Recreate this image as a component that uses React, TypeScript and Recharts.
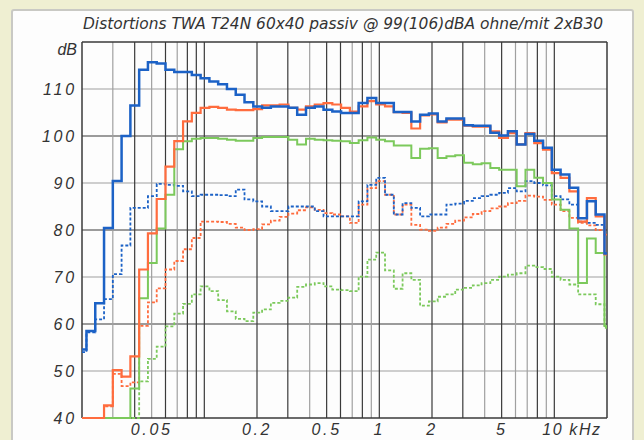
import React from 'react';
import { LineChart, Line, XAxis, YAxis, ReferenceLine } from 'recharts';

// 1/6-octave bin start frequencies (kHz); last entry closes the final bin
const BIN_FREQS = [
  0.02, 0.02121, 0.02381, 0.02673, 0.03, 0.03367, 0.0378, 0.04243, 0.04762, 0.05345,
  0.06, 0.06735, 0.0756, 0.08485, 0.09524, 0.1069, 0.12, 0.1347, 0.1512, 0.1697,
  0.1905, 0.2138, 0.24, 0.2694, 0.3024, 0.3394, 0.381, 0.4276, 0.48, 0.5388,
  0.6048, 0.6788, 0.7619, 0.8552, 0.96, 1.078, 1.21, 1.358, 1.524, 1.71,
  1.92, 2.155, 2.419, 2.715, 3.048, 3.421, 3.84, 4.31, 4.838, 5.431,
  6.095, 6.842, 7.68, 8.62, 9.676, 10.86, 12.19, 13.68, 15.36, 17.24,
  19.35, 20,
];

const BLUE_SOLID = [
  54.6, 58.5, 64.4, 80.4, 90.4, 100, 106.5, 114.1, 115.7, 115.4,
  114.1, 113.6, 113.6, 113.0, 112.3, 111.6, 111.0, 110.0, 108.8, 107.2,
  106.3, 106, 106.3, 106.3, 106, 104.5, 106, 106.3, 105.6, 105.2,
  104.9, 104.9, 107, 108.1, 107, 107, 105.1, 105.1, 103.1, 104.5,
  104.8, 103.1, 103.7, 103.7, 102.3, 102.2, 102.2, 100.7, 100.1, 101,
  98.2, 100.4, 99, 97.5, 92.8, 91.8, 89, 82.5, 86.1, 83.3,
  75,
];

const ORANGE_SOLID = [
  40, 40, 40, 42.7, 50.2, 48.8, 53.1, 71.6, 79.3, 86.6,
  93.5, 98.9, 103.1, 104.9, 106, 106.2, 106, 105.6, 105.5, 105.5,
  105.7, 106.5, 106.5, 106.7, 106, 105.6, 106.3, 106.7, 107, 106.7,
  106, 105.2, 106.3, 107.4, 106.7, 106.3, 105.1, 104.9, 101.6, 104.4,
  104.6, 102.9, 103.5, 103.5, 102.2, 102, 102, 101, 99.6, 100.6,
  98.2, 100.6, 98.5, 97.1, 92.1, 91.1, 88.2, 81.8, 86.8, 82.9,
  74.8,
];

const GREEN_SOLID = [
  40, 40, 40, 40, 40, 40, 46.3, 65.5, 73, 80.3,
  87.5, 97.2, 98.9, 99.4, 99.6, 99.6, 99.4, 99.2, 99, 99,
  99.6, 99.8, 99.8, 99.8, 99.2, 98.2, 99.4, 99.2, 99.1, 99,
  98.9, 98.5, 99.1, 99.7, 99.2, 98.9, 98, 98, 95.3, 97.3,
  97.4, 95.3, 95.7, 95.9, 94.3, 94, 94.2, 93.2, 92.8, 92.8,
  89.3, 92.8, 91.1, 90, 86.5, 84.3, 80.3, 68.7, 78.2, 75.1,
  59.6,
];

const BLUE_DOTTED = [
  54, 58.2, 61, 65.3, 70.6, 76.7, 84.7, 84.7, 87.2, 89.8,
  89.6, 89.4, 88.2, 87.2, 87.5, 87.5, 87.4, 87.2, 88.6, 86.5,
  86.1, 85, 84, 84, 85, 85, 85, 84, 82.9, 82.9,
  82.9, 82.9, 86.1, 89.6, 91.1, 87.5, 83.3, 85.7, 84.7, 82.9,
  83.3, 83.3, 85.4, 85.6, 86.2, 86.8, 87.2, 87.5, 87.9, 88.9,
  88.2, 90.4, 90, 89.5, 87.2, 86.5, 85.4, 81.8, 81.5, 81.1,
  80.4,
];

const ORANGE_DOTTED = [
  40, 40, 40, 42.5, 49.4, 46.8, 47.6, 59.6, 64.6, 67.6,
  71.6, 73.4, 75.9, 78.3, 81.8, 81.8, 81.7, 81.3, 80.5, 80,
  80.2, 81.2, 82, 82.8, 83.5, 84.2, 84.8, 84.3, 83.6, 83.3,
  82.9, 81.5, 85.4, 88.9, 90.4, 87.5, 83.3, 85.4, 81.1, 80.1,
  79.8, 80.5, 81.3, 82, 82.7, 83.4, 84, 84.6, 85, 85.7,
  86.2, 87.3, 87.1, 86.4, 85.4, 84, 82.6, 81.5, 81, 80,
  79,
];

const GREEN_DOTTED = [
  40, 40, 40, 40, 40, 40, 40, 47.8, 52.6, 55.2,
  59.5, 62.2, 64.3, 66.3, 68, 67, 65.1, 62.7, 61.1, 60.6,
  62.4, 63.1, 64.5, 64.9, 65.6, 67.9, 68.4, 68.7, 68, 67.3,
  67.2, 67, 70.1, 73.7, 75.2, 71.4, 67.5, 70.8, 69.4, 63.9,
  64.8, 65.8, 66.3, 67.3, 67.7, 68.2, 68.7, 69.4, 70.1, 70.5,
  70.8, 72.4, 72.1, 71.7, 70.1, 69.4, 68.4, 66.3, 66.3, 64.2,
  59.2,
];

const X_LABEL_TICKS = [0.05, 0.2, 0.5, 1, 2, 5, 10];
const X_LABELS = ['0.05', '0.2', '0.5', '1', '2', '5', '10 kHz'];
const Y_TICKS = [40, 50, 60, 70, 80, 90, 100, 110, 120];
const GRID_FREQS_DARK = [0.04, 0.06, 0.08, 0.09, 0.1, 0.2, 0.3, 0.5, 0.6, 0.8, 1, 2, 3, 5, 8, 10];
const GRID_FREQS_LIGHT = [0.03, 0.05, 0.07, 0.4, 0.7, 0.9, 4, 6, 7, 9];
const GRID_DB_DARK = [60, 80, 100];
const GRID_DB_LIGHT = [50, 70, 90, 110];
const TITLE = 'Distortions TWA T24N 60x40 passiv @ 99(106)dBA ohne/mit 2xB30';

const data = BIN_FREQS.map((f, i) => {
  const j = Math.min(i, BLUE_SOLID.length - 1);
  return {
    f,
    bs: BLUE_SOLID[j],
    os: ORANGE_SOLID[j],
    gs: GREEN_SOLID[j],
    bd: BLUE_DOTTED[j],
    od: ORANGE_DOTTED[j],
    gd: GREEN_DOTTED[j],
  };
});

const BLUE = '#1c62c6';
const ORANGE = '#ff6c3e';
const GREEN = '#7cc95c';
const DARK = '#3a3a3a';
const LIGHT = '#a0a0a0';
const FONT = '"Liberation Sans", Arial, sans-serif';

const XTick = (props: any) => {
  const { x, y, payload } = props;
  const idx = X_LABEL_TICKS.indexOf(payload.value);
  const label = idx >= 0 ? X_LABELS[idx] : '';
  const isLast = payload.value === 10;
  return (
    <text
      x={isLast ? x - 12 : x}
      y={y}
      dy={17}
      textAnchor={isLast ? 'start' : 'middle'}
      fontFamily={FONT}
      fontStyle="italic"
      fontSize={16}
      letterSpacing={isLast ? 1.6 : 2.6}
      fill="#333"
    >
      {label}
    </text>
  );
};

const YTick = (props: any) => {
  const { x, y, payload } = props;
  const v = payload.value;
  const isDb = v === 120;
  return (
    <text
      x={x - 5}
      y={y}
      dy={isDb ? 13 : 6}
      textAnchor="end"
      fontFamily={FONT}
      fontStyle="italic"
      fontSize={16}
      letterSpacing={isDb ? 0 : 2.8}
      fill="#333"
    >
      {isDb ? 'dB' : String(v)}
    </text>
  );
};

export default function App() {
  return (
    <div style={{ position: 'absolute', left: 0, top: 0, width: 644, height: 440, background: '#efefd2', overflow: 'hidden' }}>
      <div
        style={{
          position: 'absolute',
          left: 11,
          top: 9,
          width: 619,
          height: 450,
          background: '#fdfdfd',
          border: '2px solid #c9c9c4',
          borderRadius: 3,
        }}
      />
      <svg width={644} height={440} style={{ position: 'absolute', left: 0, top: 0 }}>
        <text
          x={343}
          y={29}
          textAnchor="middle"
          fontFamily='"Liberation Sans Narrow", "DejaVu Sans Condensed", sans-serif'
          fontStyle="italic"
          fontSize={16}
          textLength={520}
          lengthAdjust="spacingAndGlyphs"
          fill="#333"
        >
          {TITLE}
        </text>
      </svg>
      <div style={{ position: 'absolute', left: 0, top: 0 }}>
        <LineChart width={644} height={440} data={data} margin={{ top: 42, right: 37, bottom: 0, left: 0 }}>
          <XAxis
            dataKey="f"
            type="number"
            scale="log"
            domain={[0.02, 20]}
            allowDataOverflow
            ticks={X_LABEL_TICKS}
            tick={<XTick />}
            tickLine={false}
            axisLine={false}
            tickSize={0}
            tickMargin={0}
            height={22}
            interval={0}
          />
          <YAxis
            type="number"
            domain={[40, 120]}
            ticks={Y_TICKS}
            tick={<YTick />}
            tickLine={false}
            axisLine={false}
            tickSize={0}
            tickMargin={0}
            width={82}
            interval={0}
          />
          {GRID_DB_LIGHT.map((v) => (
            <ReferenceLine key={'hl' + v} y={v} stroke={LIGHT} strokeWidth={1.2} />
          ))}
          {GRID_DB_DARK.map((v) => (
            <ReferenceLine key={'hd' + v} y={v} stroke={DARK} strokeWidth={1.2} />
          ))}
          {GRID_FREQS_LIGHT.map((v) => (
            <ReferenceLine key={'vl' + v} x={v} stroke={LIGHT} strokeWidth={1.2} />
          ))}
          {GRID_FREQS_DARK.map((v) => (
            <ReferenceLine key={'vd' + v} x={v} stroke={DARK} strokeWidth={1.2} />
          ))}
          <ReferenceLine x={0.02} stroke={DARK} strokeWidth={1.5} />
          <ReferenceLine x={20} stroke={DARK} strokeWidth={1.5} />
          <ReferenceLine y={40} stroke={DARK} strokeWidth={1.5} />
          <ReferenceLine y={120} stroke={DARK} strokeWidth={1.5} />
          <Line dataKey="gd" type="stepAfter" stroke={GREEN} strokeWidth={1.8} strokeDasharray="3 2" dot={false} activeDot={false} isAnimationActive={false} />
          <Line dataKey="od" type="stepAfter" stroke={ORANGE} strokeWidth={1.8} strokeDasharray="3 2" dot={false} activeDot={false} isAnimationActive={false} />
          <Line dataKey="bd" type="stepAfter" stroke={BLUE} strokeWidth={1.8} strokeDasharray="3 2" dot={false} activeDot={false} isAnimationActive={false} />
          <Line dataKey="gs" type="stepAfter" stroke={GREEN} strokeWidth={2} dot={false} activeDot={false} isAnimationActive={false} />
          <Line dataKey="os" type="stepAfter" stroke={ORANGE} strokeWidth={2.2} dot={false} activeDot={false} isAnimationActive={false} />
          <Line dataKey="bs" type="stepAfter" stroke={BLUE} strokeWidth={2.5} dot={false} activeDot={false} isAnimationActive={false} />
        </LineChart>
      </div>
    </div>
  );
}
